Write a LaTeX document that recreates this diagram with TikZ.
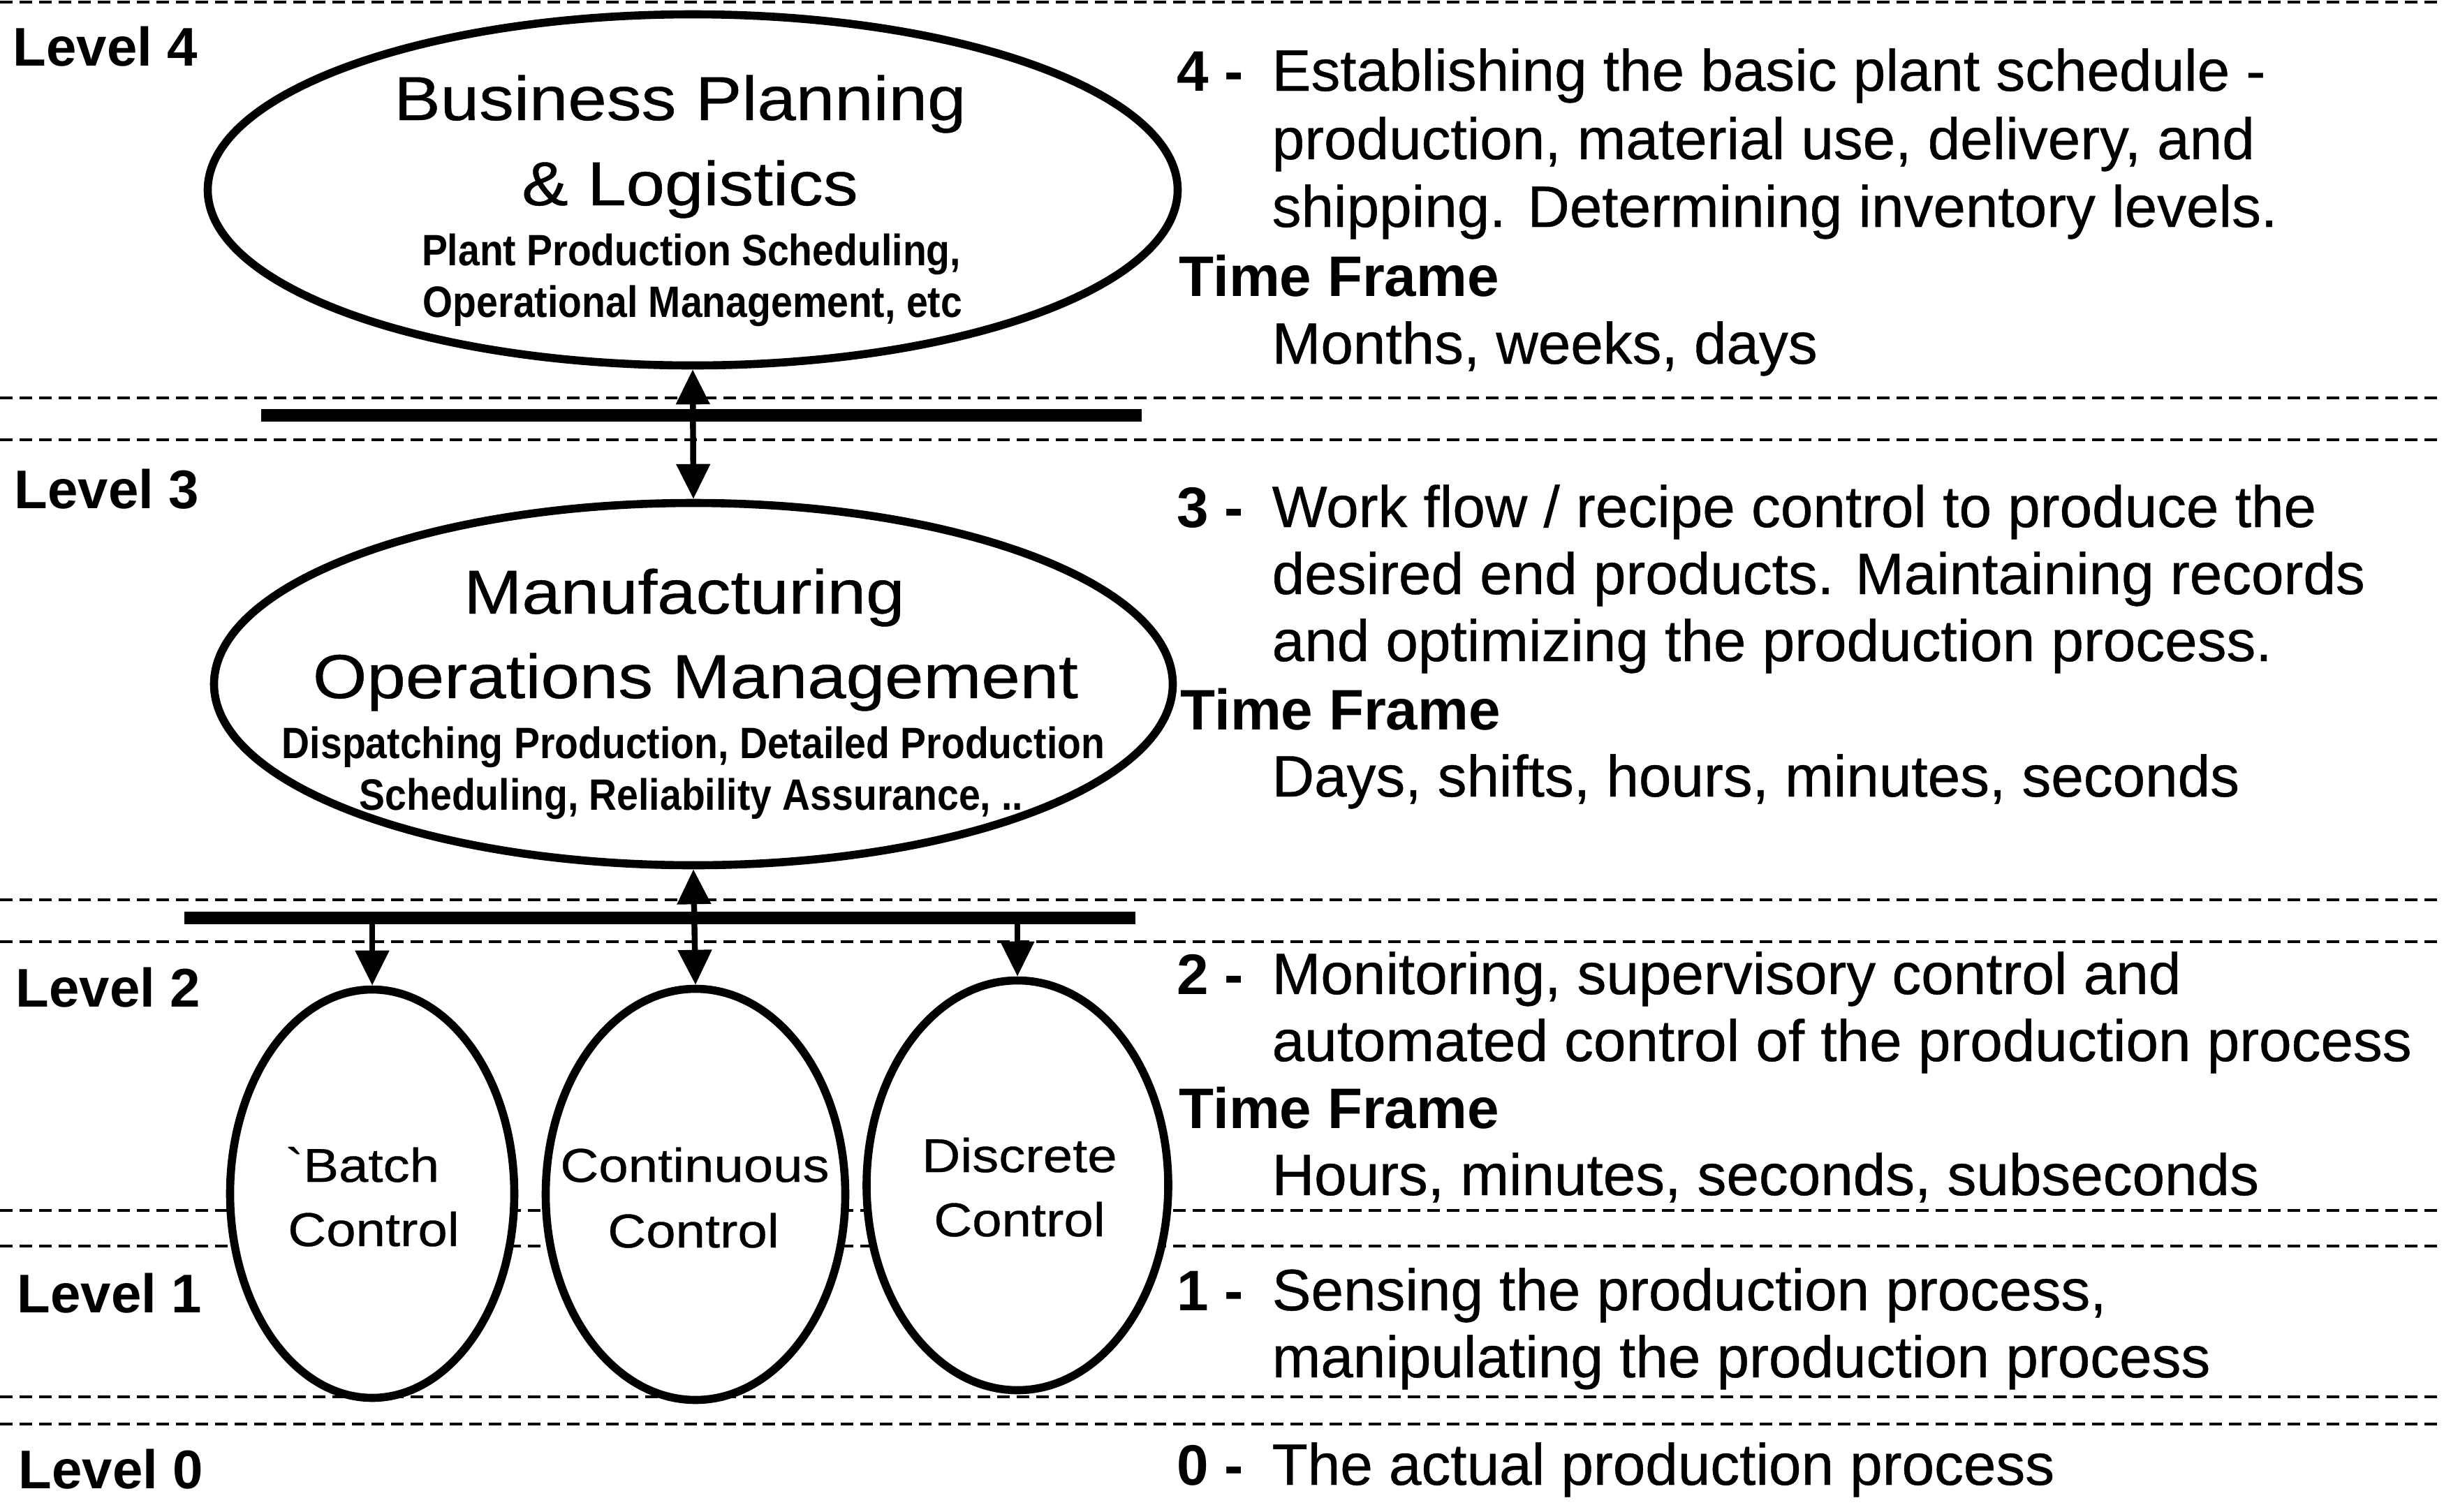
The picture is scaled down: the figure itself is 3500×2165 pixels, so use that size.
\documentclass[tikz,border=0pt]{standalone}
\usepackage{fontspec}
\setmainfont{Liberation Sans}
\newfontfamily\bodyfont[FakeBold=0.5]{Liberation Sans}
\newfontfamily\widefont[FakeStretch=1.12,FakeBold=0.5]{Liberation Sans}
\newfontfamily\narrowfont[FakeStretch=0.88]{Liberation Sans}
\usetikzlibrary{shapes.geometric,arrows.meta}
\begin{document}
\begin{tikzpicture}[x=0.1mm,y=-0.1mm,
 oval/.style={draw, ellipse, line width=3.3pt, fill=white, inner sep=0pt},
 dline/.style={line width=1.4pt, dash pattern=on 1.8mm off 1.0mm},
 bar/.style={fill=black, inner sep=0pt, minimum height=1.8mm},
 conn/.style={line width=2.4pt, -{Triangle[length=5mm,width=4.7mm]}},
 dconn/.style={line width=2.4pt, {Triangle[length=5mm,width=4.7mm]}-{Triangle[length=5mm,width=4.7mm]}},
 lvl/.style={anchor=base west, inner sep=0pt, font=\bfseries\fontsize{22.2pt}{26pt}\selectfont},
 rt/.style={anchor=base west, inner sep=0pt, font=\bodyfont\fontsize{23.8pt}{28pt}\selectfont},
 rtb/.style={anchor=base west, inner sep=0pt, font=\bfseries\fontsize{23.3pt}{28pt}\selectfont},
 ttl/.style={anchor=base, inner sep=0pt, font=\widefont\fontsize{25.3pt}{30pt}\selectfont},
 sml/.style={anchor=base, inner sep=0pt, font=\narrowfont\bfseries\fontsize{17.9pt}{21pt}\selectfont},
 ctl/.style={anchor=base, inner sep=0pt, font=\widefont\fontsize{19.35pt}{23pt}\selectfont},
]
\useasboundingbox[fill=white] (0,0) rectangle (3500,2165);
% dashed level separators
\draw[dline] (0,3) -- (3500,3);
\draw[dline] (0,570) -- (3500,570);
\draw[dline] (0,630) -- (3500,630);
\draw[dline] (0,1289) -- (3500,1289);
\draw[dline] (0,1349) -- (3500,1349);
\draw[dline] (0,1734) -- (3500,1734);
\draw[dline] (0,1785) -- (3500,1785);
\draw[dline] (0,2001) -- (3500,2001);
\draw[dline] (0,2040) -- (3500,2040);
% bars
\node[bar, minimum width=126.1mm] (bar1) at (1004.5,595) {};
\node[bar, minimum width=136.2mm] (bar2) at (945,1315) {};
% ellipses
\node[oval, minimum width=138.9mm, minimum height=50.3mm] (bpl) at (992,272) {};
\node[oval, minimum width=137.3mm, minimum height=51.9mm] (mom) at (993,980) {};
\node[oval, minimum width=40.7mm, minimum height=58.5mm] (batch) at (533,1710) {};
\node[oval, minimum width=42.9mm, minimum height=58.9mm] (cont) at (996,1711) {};
\node[oval, minimum width=43.2mm, minimum height=58.7mm] (disc) at (1457,1698) {};
% connectors
\draw[dconn] (bpl.south) -- (mom.north);
\draw[dconn] (mom.south) -- (cont.north);
\coordinate (ba) at (533,1315);
\coordinate (da) at (1457,1315);
\draw[conn] (ba) -- (batch.north);
\draw[conn] (da) -- (disc.north);
% ellipse texts
\node[ttl] (bp1) at (974,172) {Business Planning};
\node[ttl] (bp2) at (988,294) {\& Logistics};
\node[sml] (bp3) at (990,380) {Plant Production Scheduling,};
\node[sml] (bp4) at (992,454) {Operational Management, etc};
\node[ttl] (mo1) at (980,879) {Manufacturing};
\node[ttl] (mo2) at (996,1000) {Operations Management};
\node[sml] (mo3) at (993,1086) {Dispatching Production, Detailed Production};
\node[sml] (mo4) at (990,1160) {Scheduling, Reliability Assurance, ..};
\node[ctl] (bc1) at (519,1693) {`Batch};
\node[ctl] (bc2) at (535,1785) {Control};
\node[ctl] (cc1) at (995,1693) {Continuous};
\node[ctl] (cc2) at (993,1787) {Control};
\node[ctl] (dc1) at (1460,1679) {Discrete};
\node[ctl] (dc2) at (1460,1771) {Control};
% level labels
\node[lvl] (lv4) at (18,94) {Level 4};
\node[lvl] (lv3) at (20,728) {Level 3};
\node[lvl] (lv2) at (22,1442) {Level 2};
\node[lvl] (lv1) at (24,1880) {Level 1};
\node[lvl] (lv0) at (26,2132) {Level 0};
% right descriptions
\node[rtb] (n4) at (1685,130) {4 -};
\node[rt] (d4a) at (1821,130) {Establishing the basic plant schedule -};
\node[rt] (d4b) at (1821,228) {production, material use, delivery, and};
\node[rt] (d4c) at (1821,325) {shipping. Determining inventory levels.};
\node[rtb] (tf4) at (1688,424) {Time Frame};
\node[rt] (f4) at (1821,521) {Months, weeks, days};
\node[rtb] (n3) at (1685,755) {3 -};
\node[rt] (d3a) at (1821,755) {Work flow / recipe control to produce the};
\node[rt] (d3b) at (1821,851) {desired end products. Maintaining records};
\node[rt] (d3c) at (1821,947) {and optimizing the production process.};
\node[rtb] (tf3) at (1690,1045) {Time Frame};
\node[rt] (f3) at (1821,1141) {Days, shifts, hours, minutes, seconds};
\node[rtb] (n2) at (1685,1424) {2 -};
\node[rt] (d2a) at (1821,1424) {Monitoring, supervisory control and};
\node[rt] (d2b) at (1821,1520) {automated control of the production process};
\node[rtb] (tf2) at (1688,1616) {Time Frame};
\node[rt] (f2) at (1821,1712) {Hours, minutes, seconds, subseconds};
\node[rtb] (n1) at (1685,1877) {1 -};
\node[rt] (d1a) at (1821,1877) {Sensing the production process,};
\node[rt] (d1b) at (1821,1973) {manipulating the production process};
\node[rtb] (n0) at (1685,2127) {0 -};
\node[rt] (d0a) at (1821,2127) {The actual production process};
\end{tikzpicture}
\end{document}
